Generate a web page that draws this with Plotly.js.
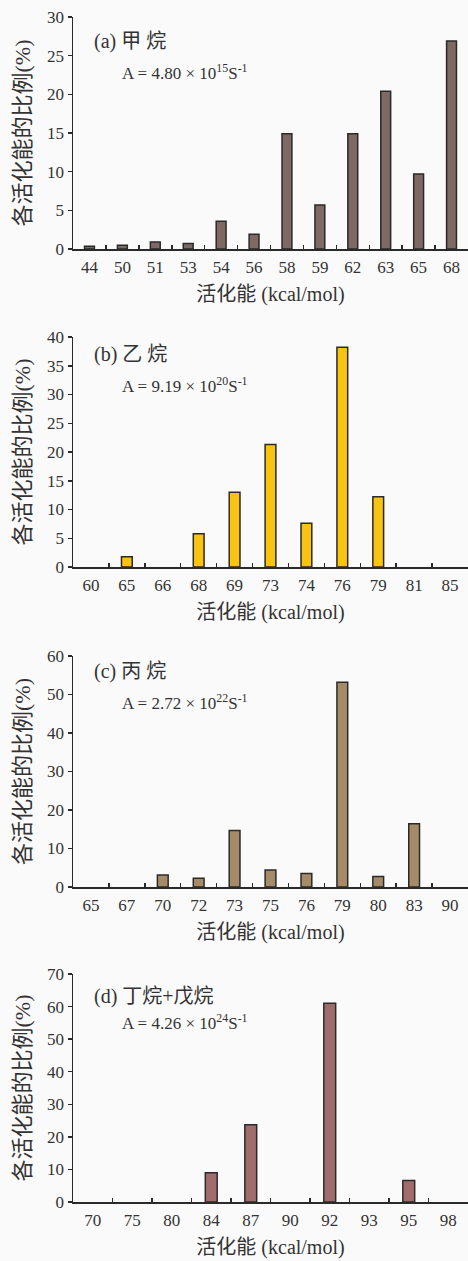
<!DOCTYPE html>
<html>
<head>
<meta charset="utf-8">
<script src="https://cdn.plot.ly/plotly-3.0.1.min.js"></script>
<style>html,body{margin:0;padding:0;background:#fafafa;}#chart{width:468px;height:1261px;}</style>
</head>
<body>
<div id="chart"></div>
<script>
// Panel (a) methane
const catsA = ['44','50','51','53','54','56','58','59','62','63','65','68'];
const valsA = [0.35, 0.5, 0.9, 0.7, 3.6, 1.9, 14.9, 5.7, 14.9, 20.4, 9.7, 26.9];
// Panel (b) ethane
const catsB = ['60','65','66','68','69','73','74','76','79','81','85'];
const valsB = [0, 1.8, 0, 5.8, 13.0, 21.3, 7.6, 38.2, 12.2, 0, 0];
// Panel (c) propane
const catsC = ['65','67','70','72','73','75','76','79','80','83','90'];
const valsC = [0, 0, 3.1, 2.3, 14.7, 4.4, 3.5, 53.2, 2.7, 16.4, 0];
// Panel (d) butane + pentane
const catsD = ['70','75','80','84','87','90','92','93','95','98'];
const valsD = [0, 0, 0, 9.0, 23.7, 0, 61.0, 0, 6.6, 0];

const labels = ['(a) 甲 烷', '(b) 乙 烷', '(c) 丙 烷', '(d) 丁烷+戊烷'];
const aTexts = ['A = 4.80 × 10<sup>15</sup>S<sup>-1</sup>',
                'A = 9.19 × 10<sup>20</sup>S<sup>-1</sup>',
                'A = 2.72 × 10<sup>22</sup>S<sup>-1</sup>',
                'A = 4.26 × 10<sup>24</sup>S<sup>-1</sup>'];
const yTitle = '各活化能的比例(%)';
const xTitle = '活化能 (kcal/mol)';

const FONT = 'Liberation Serif, Noto Sans CJK SC, serif';
const colors = ['#7e6a62', '#f8c313', '#a68b69', '#a06c6c'];
const cats = [catsA, catsB, catsC, catsD];
const vals = [valsA, valsB, valsC, valsD];
const yMax = [30, 40, 60, 70];
const yDt = [5, 5, 10, 10];
// pixel extents (top, bottom) of each plot
const pix = [[17, 249], [337, 567], [656, 887], [974, 1202]];
const H = 1261;
const labY = [0.893, 0.922, 0.932, 0.90];
const aY = [0.764, 0.791, 0.802, 0.79];

const data = [];
const layout = {
  width: 468, height: 1261,
  margin: {l: 73, r: 0, t: 0, b: 0},
  paper_bgcolor: '#fafafa', plot_bgcolor: '#fafafa',
  showlegend: false,
  font: {family: FONT, color: '#333', size: 16},
  annotations: []
};

for (let i = 0; i < 4; i++) {
  const sfx = i === 0 ? '' : String(i + 1);
  data.push({
    type: 'bar', x: cats[i], y: vals[i],
    xaxis: 'x' + sfx, yaxis: 'y' + sfx,
    marker: {color: colors[i], line: {color: '#2a2a2a', width: vals[i].map(v => v > 0 ? 1.5 : 0)}},
    width: 0.3
  });
  layout['xaxis' + sfx] = {
    type: 'category', anchor: 'y' + sfx,
    showline: true, linecolor: '#2a2a2a', linewidth: 1.5,
    ticks: 'inside', tickson: 'boundaries', ticklen: 4, tickcolor: '#2a2a2a', tickwidth: 1.5,
    showgrid: false, zeroline: false,
    tickfont: {family: FONT, size: 17, color: '#333'},
    ticklabelstandoff: 2,
    title: {text: xTitle, font: {family: FONT, size: 20, color: '#333'}, standoff: 11},
    fixedrange: true
  };
  layout['yaxis' + sfx] = {
    anchor: 'x' + sfx,
    domain: [1 - pix[i][1] / H, 1 - pix[i][0] / H],
    range: [0, yMax[i]], dtick: yDt[i],
    showline: true, linecolor: '#2a2a2a', linewidth: 1.5,
    ticks: 'outside', ticklen: 4, tickcolor: '#2a2a2a', tickwidth: 1.5,
    showgrid: false, zeroline: false,
    tickfont: {family: FONT, size: 17, color: '#333'},
    title: {text: yTitle, font: {family: FONT, size: 22, color: '#333'}, standoff: 10},
    fixedrange: true
  };
  layout.annotations.push({
    xref: 'x' + sfx + ' domain', yref: 'y' + sfx + ' domain',
    x: 0.048, y: labY[i], xanchor: 'left', yanchor: 'middle',
    text: labels[i], showarrow: false,
    font: {family: FONT, size: 20, color: '#333'}
  });
  layout.annotations.push({
    xref: 'x' + sfx + ' domain', yref: 'y' + sfx + ' domain',
    x: 0.119, y: aY[i], xanchor: 'left', yanchor: 'middle',
    text: aTexts[i], showarrow: false,
    font: {family: FONT, size: 17, color: '#333'}
  });
}

Plotly.newPlot('chart', data, layout, {displayModeBar: false, staticPlot: true});
</script>
</body>
</html>
